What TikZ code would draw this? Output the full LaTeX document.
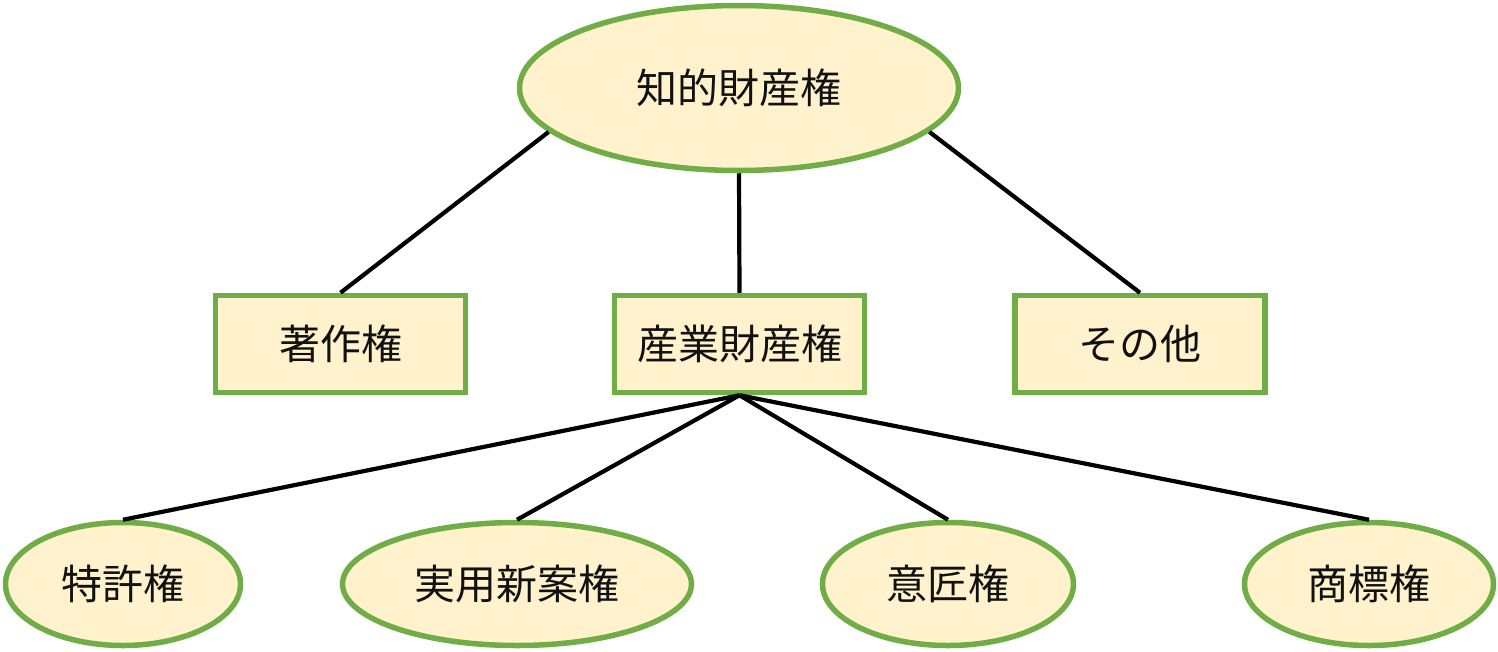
\documentclass[tikz,border=0pt]{standalone}
\usepackage{fontspec}
\newfontfamily\jp{Noto Sans CJK JP}
\usetikzlibrary{shapes.geometric}
\definecolor{bordergreen}{HTML}{70AD47}
\definecolor{fillyellow}{HTML}{FFF2CC}
\definecolor{txt}{HTML}{111111}
\begin{document}
\begin{tikzpicture}[x=1pt,y=-1pt,
  ell/.style={ellipse,draw=bordergreen,fill=fillyellow,line width=5.5pt,inner sep=0pt,text=txt,font=\jp\fontsize{41}{48}\selectfont},
  box/.style={rectangle,draw=bordergreen,fill=fillyellow,line width=5.5pt,inner sep=0pt,minimum width=250pt,minimum height=97pt,text=txt,font=\jp\fontsize{41}{48}\selectfont},
  conn/.style={line width=4.2pt,black}]
\useasboundingbox (0,0) rectangle (1498,651);
\node[ell,minimum width=439pt,minimum height=165pt] (root) at (739,88) {知的財産権};
\node[box] (chosaku) at (340.5,344) {著作権};
\node[box] (sangyo) at (739.5,344) {産業財産権};
\node[box] (sonota) at (1140,344) {その他};
\node[ell,minimum width=235pt,minimum height=123pt] (tokkyo) at (123,584) {特許権};
\node[ell,minimum width=349pt,minimum height=123pt] (jitsuyo) at (517,584) {実用新案権};
\node[ell,minimum width=251pt,minimum height=123pt] (isho) at (948,584) {意匠権};
\node[ell,minimum width=249pt,minimum height=123pt] (shohyo) at (1369,584) {商標権};
\draw[conn] (root.193) -- (chosaku.north);
\draw[conn] (root.south) -- (sangyo.north);
\draw[conn] (root.-13) -- (sonota.north);
\draw[conn] (sangyo.south) -- (tokkyo.north);
\draw[conn] (sangyo.south) -- (jitsuyo.north);
\draw[conn] (sangyo.south) -- (isho.north);
\draw[conn] (sangyo.south) -- (shohyo.north);
\end{tikzpicture}
\end{document}
